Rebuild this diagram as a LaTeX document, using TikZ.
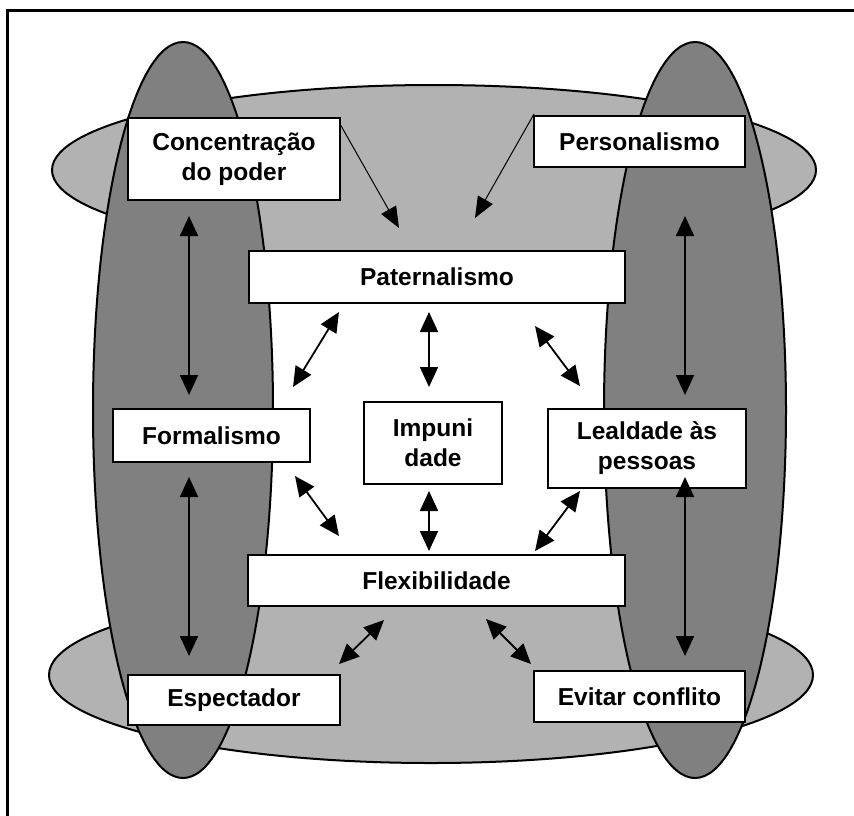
\documentclass[tikz,border=0pt]{standalone}
\usepackage{fontspec}
\setmainfont{Liberation Sans}
\usetikzlibrary{arrows.meta}
\definecolor{lightg}{RGB}{178,178,178}
\definecolor{darkg}{RGB}{128,128,128}
\begin{document}
\begin{tikzpicture}[x=1pt,y=-1pt,
  cbox/.style={draw=black, fill=white, line width=2pt, inner sep=0pt, align=center,
    font=\bfseries\fontsize{24.5}{30}\selectfont},
  dbl/.style={line width=1.8pt, {Triangle[length=20pt,width=18pt]}-{Triangle[length=20pt,width=18pt]}},
  sgl/.style={line width=1pt, -{Triangle[length=21pt,width=17pt]}},
  outl/.style={line width=2pt, draw=black}]
\useasboundingbox (0,0) rectangle (854,815);
% frame
\draw[line width=3pt] (7,830) -- (7,10) -- (870,10);
% light grey cushion
\filldraw[outl, fill=lightg] (434,170) ellipse [x radius=382pt, y radius=85pt];
\filldraw[outl, fill=lightg] (431,675) ellipse [x radius=382pt, y radius=88pt];
\fill[lightg] (200,170) rectangle (700,675);
\fill[white] (200,277) rectangle (700,580);
% dark vertical ellipses
\filldraw[outl, fill=darkg] (183,410) ellipse [x radius=90pt, y radius=368pt];
\filldraw[outl, fill=darkg] (695,410) ellipse [x radius=91pt, y radius=368pt];
% boxes
\node[cbox, minimum width=212pt, minimum height=82pt] (conc) at (234,159) {Concentração\\do poder};
\node[cbox, minimum width=211pt, minimum height=51pt] (pers) at (639.5,141.5) {Personalismo};
\node[cbox, minimum width=376pt, minimum height=52pt] (pat) at (437,277) {Paternalismo};
\node[cbox, minimum width=197pt, minimum height=53pt] (form) at (211.5,435.5) {Formalismo};
\node[cbox, minimum width=138pt, minimum height=82pt] (imp) at (433,443) {Impuni\\dade};
\node[cbox, minimum width=198pt, minimum height=79pt] (leal) at (647,448.5) {Lealdade às\\pessoas};
\node[cbox, minimum width=377pt, minimum height=51pt] (flex) at (436.5,580.5) {Flexibilidade};
\node[cbox, minimum width=212pt, minimum height=50pt] (esp) at (234,700) {Espectador};
\node[cbox, minimum width=211pt, minimum height=51pt] (evit) at (639.5,696.5) {Evitar conflito};
% arrow end points
\coordinate (c1) at (340,124);  \coordinate (c2) at (399,228);
\coordinate (p1) at (534,114);  \coordinate (p2) at (475,218);
\coordinate (lu1) at (189,216); \coordinate (lu2) at (189,395);
\coordinate (ru1) at (685,216); \coordinate (ru2) at (685,395);
\coordinate (ll1) at (189,477); \coordinate (ll2) at (189,656);
\coordinate (rl1) at (685,477); \coordinate (rl2) at (685,656);
\coordinate (pf1) at (339,312); \coordinate (pf2) at (293,387);
\coordinate (pi1) at (429,312); \coordinate (pi2) at (429,387);
\coordinate (pl1) at (535,326); \coordinate (pl2) at (580,386);
\coordinate (ff1) at (295,476); \coordinate (ff2) at (339,536);
\coordinate (if1) at (429,491); \coordinate (if2) at (429,551);
\coordinate (lf1) at (580,491); \coordinate (lf2) at (535,551);
\coordinate (fe1) at (384,620); \coordinate (fe2) at (339,664);
\coordinate (fv1) at (486,619); \coordinate (fv2) at (531,664);
% arrows
\draw[sgl] (c1) -- (c2);
\draw[sgl] (p1) -- (p2);
\draw[dbl] (lu1) -- (lu2);
\draw[dbl] (ru1) -- (ru2);
\draw[dbl] (ll1) -- (ll2);
\draw[dbl] (rl1) -- (rl2);
\draw[dbl] (pf1) -- (pf2);
\draw[dbl] (pi1) -- (pi2);
\draw[dbl] (pl1) -- (pl2);
\draw[dbl] (ff1) -- (ff2);
\draw[dbl] (if1) -- (if2);
\draw[dbl] (lf1) -- (lf2);
\draw[dbl] (fe1) -- (fe2);
\draw[dbl] (fv1) -- (fv2);
\end{tikzpicture}
\end{document}
